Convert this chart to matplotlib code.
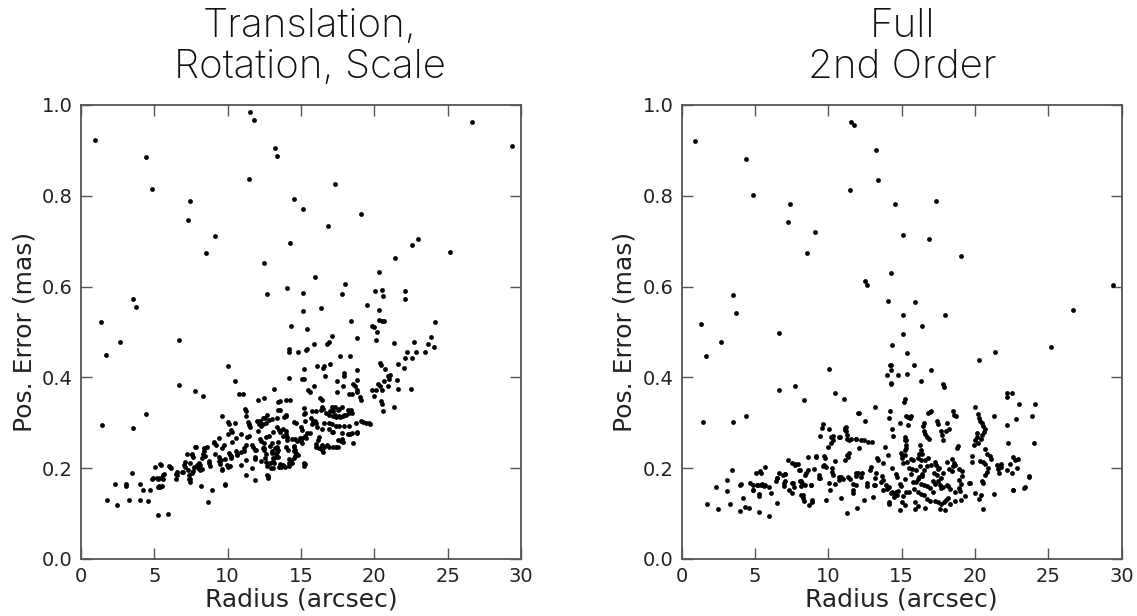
import matplotlib
matplotlib.use("Agg")
import matplotlib.pyplot as plt

# ---------------- data ----------------
x_ticks = [0, 5, 10, 15, 20, 25, 30]
y_ticks = [0.0, 0.2, 0.4, 0.6, 0.8, 1.0]
x_label = "Radius (arcsec)"
y_label = "Pos. Error (mas)"
title_left = ["Translation,", "Rotation, Scale"]
title_right = ["Full", "2nd Order"]

# Left panel: translation, rotation, scale fit  (radius [arcsec], error [mas])
trs_points = [
    (0.93, 0.922), (4.41, 0.886), (4.86, 0.815), (7.41, 0.789), (7.27, 0.746), (9.14, 0.711),
    (8.55, 0.675), (11.52, 0.985), (11.80, 0.968), (11.45, 0.838), (12.48, 0.651), (12.66, 0.584),
    (13.25, 0.905), (13.36, 0.888), (1.34, 0.522), (3.55, 0.572), (3.73, 0.556), (2.68, 0.479),
    (6.68, 0.483), (26.66, 0.963), (29.41, 0.910), (17.34, 0.827), (14.52, 0.794), (15.14, 0.772),
    (19.07, 0.761), (16.86, 0.733), (14.27, 0.697), (23.0, 0.705), (22.55, 0.692), (25.18, 0.677),
    (21.39, 0.662), (20.32, 0.632), (15.93, 0.621), (18.0, 0.606), (14.07, 0.598), (15.14, 0.587),
    (17.80, 0.584), (20.07, 0.591), (20.55, 0.593), (20.61, 0.580), (22.11, 0.591), (22.11, 0.572),
    (15.14, 0.546), (16.39, 0.552), (19.52, 0.559), (20.32, 0.548), (18.39, 0.524), (14.34, 0.513),
    (15.41, 0.507), (20.3, 0.527), (20.5, 0.525), (20.65, 0.524), (24.11, 0.522), (19.84, 0.513),
    (20.0, 0.510), (20.2, 0.501), (17.13, 0.492), (18.8, 0.487), (20.13, 0.482), (21.32, 0.476),
    (22.7, 0.479), (23.86, 0.490), (23.66, 0.474), (24.05, 0.467), (16.75, 0.474), (16.9, 0.478),
    (15.86, 0.474), (14.2, 0.463), (15.4, 0.463),
    (1.45, 0.295), (1.68, 0.449), (6.68, 0.384), (3.55, 0.289), (4.41, 0.319), (7.75, 0.369),
    (8.34, 0.358), (10.04, 0.425), (10.48, 0.393), (10.75, 0.363), (11.07, 0.363), (9.59, 0.316),
    (1.75, 0.130), (2.45, 0.120), (2.34, 0.166), (3.05, 0.160), (3.1, 0.165), (3.27, 0.130),
    (3.45, 0.190), (4.0, 0.166), (4.2, 0.153), (4.0, 0.130), (4.59, 0.128), (4.68, 0.153),
    (4.89, 0.178), (5.27, 0.098), (5.93, 0.100), (5.07, 0.203), (5.17, 0.178), (5.25, 0.158),
    (5.43, 0.208), (5.6, 0.185), (5.62, 0.176), (5.52, 0.161), (6.05, 0.203), (6.45, 0.187),
    (6.47, 0.176), (6.91, 0.192), (7.02, 0.208), (7.1, 0.203), (7.32, 0.197), (7.34, 0.186),
    (7.4, 0.176), (7.45, 0.170), (7.25, 0.231), (7.55, 0.230), (7.65, 0.224), (7.8, 0.246),
    (7.61, 0.194), (7.9, 0.206), (8.0, 0.200), (8.1, 0.195), (8.22, 0.222), (8.41, 0.244),
    (8.48, 0.227), (8.2, 0.160), (8.66, 0.126), (8.75, 0.212), (8.77, 0.204), (8.93, 0.153),
    (9.1, 0.256), (9.2, 0.252), (9.41, 0.266), (9.43, 0.216), (9.46, 0.210), (9.61, 0.198),
    (9.75, 0.251), (9.8, 0.164), (10.05, 0.302), (10.1, 0.297), (10.25, 0.285), (10.32, 0.280),
    (10.0, 0.275), (9.84, 0.220), (10.08, 0.233), (10.13, 0.229), (10.31, 0.258), (10.14, 0.205),
    (10.52, 0.300), (10.57, 0.267), (10.64, 0.228), (10.91, 0.276), (10.93, 0.208), (11.18, 0.331),
    (11.22, 0.327), (11.23, 0.316), (11.23, 0.184), (11.27, 0.252), (11.4, 0.302), (11.47, 0.297),
    (11.34, 0.268), (11.66, 0.201), (11.73, 0.247), (11.86, 0.240), (11.86, 0.225), (11.89, 0.174),
    (12.07, 0.350), (12.07, 0.283), (12.2, 0.303), (12.5, 0.354), (12.39, 0.310), (12.59, 0.269),
    (12.73, 0.183), (12.55, 0.222), (13.18, 0.374), (13.02, 0.308), (13.0, 0.238), (13.05, 0.234),
    (13.12, 0.216), (13.18, 0.212), (13.43, 0.328), (13.48, 0.284), (13.4, 0.346),
    (14.16, 0.457), (14.77, 0.456), (15.36, 0.461), (15.18, 0.418), (16.07, 0.425), (14.2, 0.399),
    (15.05, 0.397), (15.2, 0.396), (15.5, 0.372), (15.6, 0.368), (15.9, 0.380), (14.0, 0.351),
    (13.57, 0.347), (13.6, 0.328), (13.99, 0.316), (13.34, 0.310), (15.23, 0.333), (15.25, 0.322),
    (15.27, 0.304), (15.7, 0.310), (15.8, 0.304), (15.75, 0.298), (16.04, 0.327), (16.09, 0.291),
    (13.95, 0.282), (14.0, 0.275), (14.05, 0.268), (13.8, 0.270), (14.6, 0.264), (14.7, 0.261),
    (14.54, 0.247), (15.25, 0.271), (15.35, 0.267), (15.64, 0.277), (16.0, 0.254), (16.0, 0.247),
    (14.64, 0.233), (14.15, 0.220), (14.2, 0.211), (15.18, 0.211), (13.5, 0.203), (13.62, 0.203),
    (13.09, 0.200), (12.61, 0.214), (13.27, 0.225), (13.34, 0.236), (12.91, 0.249), (12.8, 0.271),
    (13.07, 0.280), (12.57, 0.310), (12.7, 0.317), (12.15, 0.298), (12.25, 0.294), (11.98, 0.303),
    (11.45, 0.296), (11.5, 0.291), (12.22, 0.265), (12.27, 0.261), (12.42, 0.244), (12.47, 0.240),
    (11.91, 0.240), (11.68, 0.251), (11.89, 0.220), (12.78, 0.178), (11.25, 0.218), (11.1, 0.245),
    (11.12, 0.238), (10.55, 0.237), (10.62, 0.232), (10.2, 0.227), (10.26, 0.222), (9.95, 0.207),
    (10.03, 0.203), (9.59, 0.245), (9.64, 0.196), (9.52, 0.218), (11.48, 0.272), (10.89, 0.236),
    (9.09, 0.258), (9.11, 0.231), (9.39, 0.225), (9.82, 0.165), (8.59, 0.247), (8.4, 0.237),
    (8.35, 0.232), (8.07, 0.212), (8.12, 0.207), (8.23, 0.198), (8.7, 0.215), (7.84, 0.247),
    (7.57, 0.232), (7.43, 0.211), (7.72, 0.203), (7.6, 0.190), (7.06, 0.213), (6.57, 0.192),
    (6.52, 0.185), (6.95, 0.192), (7.38, 0.176), (5.67, 0.188), (5.39, 0.209), (6.02, 0.204),
    (6.12, 0.201), (5.25, 0.176), (5.42, 0.178), (4.84, 0.176), (5.4, 0.159), (5.3, 0.160),
    (22.2, 0.455), (22.1, 0.443), (22.59, 0.443), (22.82, 0.455), (23.45, 0.455), (21.61, 0.429),
    (22.0, 0.421), (17.66, 0.447), (18.34, 0.447), (18.8, 0.416), (17.9, 0.410), (17.93, 0.404),
    (16.57, 0.425), (16.52, 0.420), (16.98, 0.429), (16.64, 0.404), (20.4, 0.432), (20.45, 0.428),
    (20.7, 0.418), (20.9, 0.403), (21.05, 0.405), (20.97, 0.397), (20.64, 0.392), (20.28, 0.386),
    (20.38, 0.382), (20.95, 0.382), (21.55, 0.395), (21.59, 0.374), (22.5, 0.374), (19.84, 0.373),
    (20.1, 0.372), (20.52, 0.372), (20.0, 0.359), (20.45, 0.347), (20.52, 0.341), (20.61, 0.326),
    (21.32, 0.335), (18.8, 0.394), (18.55, 0.385), (18.67, 0.381), (18.85, 0.372), (18.8, 0.368),
    (19.05, 0.357), (19.12, 0.350), (18.5, 0.363), (18.3, 0.363), (17.84, 0.381), (17.43, 0.391),
    (17.48, 0.367), (19.12, 0.305), (19.2, 0.302), (19.66, 0.300), (18.8, 0.278), (18.34, 0.275),
    (18.52, 0.255), (17.75, 0.260), (17.85, 0.258), (17.18, 0.279), (17.6, 0.293), (18.3, 0.293),
    (17.4, 0.247), (17.5, 0.246), (16.6, 0.247), (16.45, 0.252), (16.8, 0.252), (16.3, 0.354),
    (16.5, 0.330), (16.7, 0.322), (16.9, 0.318), (17.15, 0.315), (17.4, 0.313), (17.65, 0.313),
    (17.85, 0.315), (18.05, 0.318), (18.25, 0.322), (18.4, 0.329), (17.1, 0.335), (17.3, 0.334),
    (17.6, 0.330), (16.6, 0.300), (16.9, 0.300), (17.1, 0.298), (16.45, 0.287), (17.1, 0.280),
    (14.27, 0.351), (15.77, 0.326), (15.2, 0.319), (16.45, 0.350), (16.4, 0.335), (16.35, 0.328),
    (16.95, 0.325), (17.2, 0.327), (17.5, 0.329), (17.8, 0.334), (18.2, 0.329), (18.48, 0.322),
    (15.95, 0.304), (16.05, 0.300), (17.3, 0.318), (17.6, 0.316), (17.95, 0.318), (17.4, 0.293),
    (17.9, 0.293), (16.92, 0.287), (18.75, 0.300), (19.45, 0.300), (19.7, 0.298), (17.8, 0.277),
    (18.2, 0.275), (18.5, 0.277), (18.85, 0.279), (16.2, 0.268), (16.15, 0.262), (17.5, 0.262),
    (17.8, 0.264), (16.2, 0.244), (16.35, 0.244), (16.9, 0.246), (17.2, 0.246), (16.4, 0.240),
    (16.5, 0.236), (14.95, 0.266), (15.0, 0.260), (15.05, 0.255), (14.4, 0.264), (14.5, 0.250),
    (14.6, 0.241), (14.05, 0.262), (13.95, 0.246), (14.1, 0.240), (13.8, 0.286), (13.55, 0.280),
    (13.35, 0.290), (13.45, 0.258), (13.35, 0.247), (13.4, 0.240), (13.0, 0.255), (13.2, 0.245),
    (13.3, 0.232), (13.4, 0.225), (13.1, 0.222), (12.45, 0.256), (12.5, 0.245), (12.6, 0.232),
    (12.9, 0.212), (12.95, 0.200), (12.65, 0.186), (13.6, 0.210), (13.75, 0.206), (13.9, 0.202),
    (14.3, 0.218), (14.4, 0.211), (14.2, 0.205), (14.55, 0.237), (14.6, 0.227), (14.5, 0.222),
    (14.8, 0.229), (15.2, 0.205), (15.3, 0.209), (15.1, 0.266), (15.4, 0.277), (15.03, 0.290),
    (15.1, 0.284), (14.55, 0.302), (14.65, 0.299), (13.85, 0.313), (13.95, 0.317), (12.4, 0.297),
    (12.6, 0.300), (12.8, 0.306), (12.3, 0.215), (12.7, 0.205),
]

# Right panel: full 2nd-order fit  (radius [arcsec], error [mas])
full_points = [
    (0.93, 0.921), (4.38, 0.880), (4.84, 0.802), (7.36, 0.783), (7.25, 0.742), (9.11, 0.720),
    (8.52, 0.675), (11.52, 0.963), (11.77, 0.955), (11.45, 0.813), (1.32, 0.518), (3.52, 0.582),
    (3.72, 0.541), (2.66, 0.477), (6.66, 0.498), (13.25, 0.901), (13.41, 0.834), (14.52, 0.783),
    (17.32, 0.789), (15.11, 0.714), (16.84, 0.705), (19.04, 0.668), (14.25, 0.630), (12.5, 0.612),
    (12.62, 0.603), (29.38, 0.604), (14.07, 0.568), (15.93, 0.565), (15.11, 0.537), (17.97, 0.537),
    (16.38, 0.513), (26.66, 0.548), (15.11, 0.496), (14.32, 0.472), (25.16, 0.468),
    (1.63, 0.447), (1.45, 0.302), (3.52, 0.302), (4.38, 0.315), (6.66, 0.372), (7.73, 0.380),
    (8.32, 0.350), (10.07, 0.418), (10.45, 0.365), (11.07, 0.352), (12.04, 0.322),
    (15.38, 0.454), (14.18, 0.427), (13.98, 0.405), (14.77, 0.406), (14.27, 0.386), (15.38, 0.408),
    (13.16, 0.334), (12.48, 0.305), (14.18, 0.326), (14.15, 0.310), (14.32, 0.287), (15.14, 0.346),
    (15.2, 0.352), (15.27, 0.315), (15.23, 0.269), (15.27, 0.252), (15.2, 0.229), (9.61, 0.298),
    (10.04, 0.286), (10.2, 0.268), (10.3, 0.263), (10.2, 0.255), (10.79, 0.269), (11.15, 0.285),
    (11.25, 0.265), (11.55, 0.265), (11.9, 0.265), (12.2, 0.263), (12.4, 0.262), (12.7, 0.258),
    (13.0, 0.258), (11.43, 0.233), (11.13, 0.218), (12.07, 0.244), (13.3, 0.222), (13.4, 0.218),
    (13.86, 0.247), (14.09, 0.229), (13.75, 0.212), (14.32, 0.200), (14.58, 0.188), (14.65, 0.181),
    (13.25, 0.190), (13.2, 0.178), (12.9, 0.202), (12.82, 0.197), (12.3, 0.190), (12.25, 0.181),
    (12.63, 0.168), (12.6, 0.160), (13.18, 0.163), (13.6, 0.170), (13.95, 0.162), (14.0, 0.155),
    (14.35, 0.147), (14.45, 0.143), (14.5, 0.137), (14.85, 0.166), (14.95, 0.160), (14.1, 0.125),
    (14.15, 0.121), (14.9, 0.108), (15.2, 0.118), (13.72, 0.152), (13.07, 0.137), (12.43, 0.130),
    (11.98, 0.112), (11.3, 0.102), (11.7, 0.165), (11.7, 0.152), (11.9, 0.190), (11.85, 0.182),
    (10.75, 0.175), (10.7, 0.180), (10.25, 0.192), (10.3, 0.186), (9.66, 0.205), (9.38, 0.185),
    (9.38, 0.178), (9.16, 0.227), (9.7, 0.227), (8.82, 0.163), (8.85, 0.126), (8.3, 0.140),
    (8.25, 0.134), (8.05, 0.196), (8.5, 0.190), (7.55, 0.212), (7.7, 0.206), (7.04, 0.188),
    (6.9, 0.185), (6.5, 0.178), (6.45, 0.172), (7.5, 0.167), (7.65, 0.158), (8.13, 0.172),
    (8.2, 0.167), (6.52, 0.124), (5.34, 0.194), (5.66, 0.203), (5.5, 0.165), (5.7, 0.163),
    (5.2, 0.162), (4.84, 0.164), (4.88, 0.152), (5.27, 0.143), (5.25, 0.103), (5.93, 0.095),
    (4.33, 0.115), (4.2, 0.134), (4.06, 0.165), (8.63, 0.225), (8.64, 0.196),
    (1.7, 0.122), (2.47, 0.110), (2.32, 0.158), (3.07, 0.149), (3.11, 0.175), (3.27, 0.121),
    (3.45, 0.197), (4.0, 0.162), (4.0, 0.106), (4.59, 0.112), (4.66, 0.167), (4.84, 0.153),
    (5.07, 0.190), (5.39, 0.190), (5.25, 0.139), (5.16, 0.163), (5.4, 0.163), (5.6, 0.160),
    (5.93, 0.158), (6.07, 0.145), (6.52, 0.178), (6.62, 0.190), (6.97, 0.167), (7.05, 0.172),
    (7.0, 0.160), (7.27, 0.218), (7.07, 0.187), (7.3, 0.152), (7.52, 0.145), (7.75, 0.209),
    (7.95, 0.210), (7.6, 0.167), (8.0, 0.196), (8.05, 0.172), (8.1, 0.160), (8.13, 0.141),
    (8.34, 0.127), (8.66, 0.120), (8.4, 0.185), (8.43, 0.163), (8.8, 0.162), (8.91, 0.129),
    (9.14, 0.225), (9.04, 0.199), (9.45, 0.272), (9.45, 0.178), (9.59, 0.288), (9.75, 0.222),
    (9.7, 0.206), (9.85, 0.203), (9.82, 0.130), (10.0, 0.247), (10.25, 0.200), (10.07, 0.167),
    (10.3, 0.272), (10.09, 0.151), (10.45, 0.216), (10.45, 0.166), (10.7, 0.269), (10.85, 0.180),
    (11.0, 0.176), (10.86, 0.134), (11.1, 0.288), (11.2, 0.282), (11.4, 0.263), (11.85, 0.265),
    (11.3, 0.230), (11.35, 0.224), (11.35, 0.180), (11.5, 0.176), (11.85, 0.162), (11.7, 0.146),
    (12.02, 0.189),
    (21.38, 0.455), (20.29, 0.438), (15.86, 0.427), (17.0, 0.416), (16.32, 0.391), (17.8, 0.385),
    (17.86, 0.378), (22.16, 0.366), (22.16, 0.356), (22.52, 0.365), (23.0, 0.341), (24.11, 0.341),
    (22.8, 0.308), (23.86, 0.316), (22.18, 0.296), (21.31, 0.316), (24.04, 0.255), (22.25, 0.255),
    (22.73, 0.218), (23.66, 0.181), (23.36, 0.157), (22.61, 0.152), (21.5, 0.208), (21.55, 0.198),
    (21.75, 0.202), (21.65, 0.190), (20.85, 0.200), (20.8, 0.192), (20.7, 0.186), (21.31, 0.143),
    (20.0, 0.335), (20.2, 0.320), (20.25, 0.311), (20.35, 0.305), (20.45, 0.300), (20.55, 0.292),
    (20.7, 0.286), (20.6, 0.280), (20.5, 0.274), (20.4, 0.265), (20.1, 0.268), (20.15, 0.278),
    (19.8, 0.226), (19.8, 0.214), (20.55, 0.213), (20.35, 0.215), (20.7, 0.210), (20.45, 0.172),
    (20.52, 0.168), (20.0, 0.146), (20.4, 0.140), (20.3, 0.133), (20.55, 0.110), (19.59, 0.167),
    (18.6, 0.207), (18.9, 0.198), (19.1, 0.193), (19.1, 0.183), (18.9, 0.173), (19.05, 0.165),
    (18.9, 0.157), (19.0, 0.149), (18.6, 0.148), (18.3, 0.155), (18.1, 0.163), (17.8, 0.158),
    (17.6, 0.162), (17.5, 0.172), (17.7, 0.178), (18.25, 0.199), (18.4, 0.193), (18.55, 0.211),
    (17.5, 0.198), (17.35, 0.206), (17.3, 0.213), (16.8, 0.222), (16.6, 0.219), (16.3, 0.218),
    (16.1, 0.222), (15.8, 0.218), (15.6, 0.221), (15.35, 0.214), (15.1, 0.212), (15.0, 0.223),
    (16.5, 0.196), (16.35, 0.188), (16.1, 0.176), (16.3, 0.166), (16.55, 0.164), (16.75, 0.160),
    (16.9, 0.157), (17.1, 0.148), (15.75, 0.170), (15.95, 0.170), (15.85, 0.155), (15.5, 0.148),
    (15.3, 0.148), (15.25, 0.176), (15.6, 0.187), (15.9, 0.126), (16.1, 0.117), (16.9, 0.128),
    (17.3, 0.127), (17.5, 0.125), (17.9, 0.126), (18.3, 0.121), (18.6, 0.128), (19.05, 0.130),
    (17.6, 0.110), (15.9, 0.111), (17.95, 0.108), (17.7, 0.122), (16.6, 0.112), (16.55, 0.140),
    (16.7, 0.132), (16.5, 0.300), (16.45, 0.292), (16.5, 0.283), (16.6, 0.275), (16.7, 0.268),
    (16.85, 0.265), (17.7, 0.283), (17.75, 0.273), (17.8, 0.262), (18.56, 0.318), (18.5, 0.326),
    (18.7, 0.314), (18.25, 0.286), (18.84, 0.250), (18.75, 0.244), (17.4, 0.303), (16.8, 0.322),
    (17.0, 0.326), (15.4, 0.312), (15.55, 0.310), (15.45, 0.296), (15.2, 0.262), (15.2, 0.241),
    (14.9, 0.300), (17.47, 0.298), (18.1, 0.300), (18.05, 0.282), (16.3, 0.240), (16.25, 0.252),
    (16.2, 0.232), (16.4, 0.232), (14.95, 0.234), (13.65, 0.183), (13.7, 0.175), (13.1, 0.162),
    (14.1, 0.158), (14.25, 0.145), (14.6, 0.148), (14.75, 0.150), (14.7, 0.140), (15.1, 0.138),
    (15.05, 0.125), (16.13, 0.148), (16.3, 0.144), (16.2, 0.180), (16.4, 0.183), (17.1, 0.171),
    (17.3, 0.166), (17.7, 0.156), (18.15, 0.160), (18.15, 0.135), (18.0, 0.129), (19.66, 0.168),
    (19.3, 0.138), (22.57, 0.152), (23.41, 0.158), (23.66, 0.183), (22.4, 0.210), (22.5, 0.190),
    (22.85, 0.200), (22.9, 0.220), (22.6, 0.225), (22.2, 0.196), (21.8, 0.210), (20.2, 0.256),
    (20.0, 0.262), (19.9, 0.252), (20.7, 0.242), (20.8, 0.232), (21.0, 0.226), (21.1, 0.220),
    (15.5, 0.200), (15.7, 0.198), (16.0, 0.195), (16.25, 0.205), (16.7, 0.205), (17.0, 0.208),
    (17.2, 0.190), (17.4, 0.184), (17.8, 0.190), (17.55, 0.200), (18.1, 0.214), (18.4, 0.221),
    (18.5, 0.205), (14.25, 0.427), (14.27, 0.416), (14.27, 0.388), (15.6, 0.314), (12.09, 0.322),
    (11.22, 0.290), (11.3, 0.274), (14.39, 0.271), (15.3, 0.262), (15.32, 0.244), (15.0, 0.228),
    (16.9, 0.323),
]

trs_radius, trs_error = zip(*trs_points)
full_radius, full_error = zip(*full_points)

# ---------------- figure ----------------
W, H = 1137, 616
fig = plt.figure(figsize=(W / 100, H / 100), dpi=100)


def rect(x0, x1, y0, y1):
    return [x0 / W, 1 - y1 / H, (x1 - x0) / W, (y1 - y0) / H]


ax1 = fig.add_axes(rect(81, 521, 105, 559))
ax2 = fig.add_axes(rect(681.7, 1121.7, 105, 559))

spine_col = "#555555"
for ax, r, e in ((ax1, trs_radius, trs_error), (ax2, full_radius, full_error)):
    ax.scatter(r, e, s=12, c="black", linewidths=0, zorder=3, clip_on=False)
    ax.set_xlim(x_ticks[0], x_ticks[-1])
    ax.set_ylim(y_ticks[0], y_ticks[-1])
    ax.set_xticks(x_ticks)
    ax.set_xticklabels([str(t) for t in x_ticks])
    ax.set_yticks(y_ticks)
    ax.set_yticklabels(["%.1f" % t for t in y_ticks])
    ax.tick_params(direction="in", length=8, width=1, top=True, right=True,
                   labelsize=14, pad=6, color=spine_col, labelcolor="#222222")
    for s in ax.spines.values():
        s.set_color(spine_col)
        s.set_linewidth(1.3)
    ax.set_xlabel(x_label, fontsize=18, color="#222222", labelpad=1)
    ax.set_ylabel(y_label, fontsize=18, color="#222222", labelpad=4)

title_kw = dict(ha="center", va="baseline", fontsize=29, family="Inter",
                fontweight="light", color="#111111")
for cx, lines in ((310, title_left), (902, title_right)):
    fig.text(cx / W, 1 - 37 / H, lines[0], **title_kw)
    fig.text(cx / W, 1 - 78 / H, lines[1], **title_kw)

fig.savefig("out.png", dpi=100)
